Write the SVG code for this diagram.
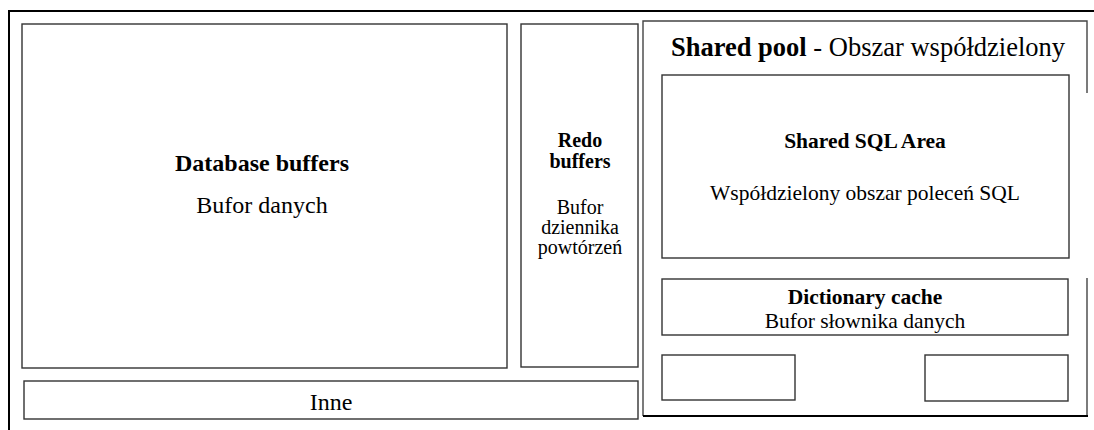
<svg xmlns="http://www.w3.org/2000/svg" width="1094" height="430" viewBox="0 0 1094 430">
  <style>
    .box { fill: #fff; stroke: #333; stroke-width: 1.4; }
    .edge { fill: none; stroke: #444; stroke-width: 1.4; }
    .frame { fill: none; stroke: #000; stroke-width: 2; }
    text { font-family: "Liberation Serif", "Times New Roman", serif; fill: #000; text-anchor: middle; }
    .b { font-weight: bold; }
    .big { font-size: 24px; }
    .mid { font-size: 21.5px; }
    .sm { font-size: 20px; }
  </style>
  <rect width="1094" height="430" fill="#fff"/>

  <!-- outer frame: top and left sides only -->
  <g id="frame">
    <polyline class="frame" points="9,430 9,11 1094,11"/>
  </g>

  <g id="database-buffers">
    <rect class="box" x="22" y="24" width="485" height="344"/>
    <text class="big b" x="262" y="171">Database buffers</text>
    <text class="big" x="262" y="213">Bufor danych</text>
  </g>

  <g id="redo-buffers">
    <rect class="box" x="521" y="24" width="117" height="343"/>
    <text class="sm b" x="580" y="147">Redo</text>
    <text class="sm b" x="580" y="168">buffers</text>
    <text class="sm" x="580" y="214">Bufor</text>
    <text class="sm" x="580" y="234">dziennika</text>
    <text class="sm" x="580" y="254">powtórzeń</text>
  </g>

  <g id="inne">
    <rect class="box" x="24" y="381" width="614" height="38"/>
    <text class="big" x="331" y="410">Inne</text>
  </g>

  <g id="shared-pool">
    <polyline class="edge" points="643,416 643,21 1087,21 1087,93"/>
    <line class="edge" x1="1087" y1="278" x2="1087" y2="416"/>
    <line class="frame" x1="643" y1="416" x2="1088" y2="416"/>
    <text x="868" y="56" style="font-size:26.5px"><tspan class="b">Shared pool</tspan> - Obszar współdzielony</text>
  </g>

  <g id="shared-sql-area">
    <rect class="box" x="662" y="75" width="407" height="183"/>
    <text class="mid b" x="865" y="148">Shared SQL Area</text>
    <text class="mid" x="865" y="200">Współdzielony obszar poleceń SQL</text>
  </g>

  <g id="dictionary-cache">
    <rect class="box" x="662" y="279" width="406" height="56"/>
    <text class="mid b" x="865" y="304">Dictionary cache</text>
    <text class="mid" x="865" y="328">Bufor słownika danych</text>
  </g>

  <g id="pool-slot-left">
    <rect class="box" x="662" y="355" width="133" height="45"/>
  </g>

  <g id="pool-slot-right">
    <rect class="box" x="925" y="355" width="143" height="46"/>
  </g>

  <g id="connectors"/>
</svg>
